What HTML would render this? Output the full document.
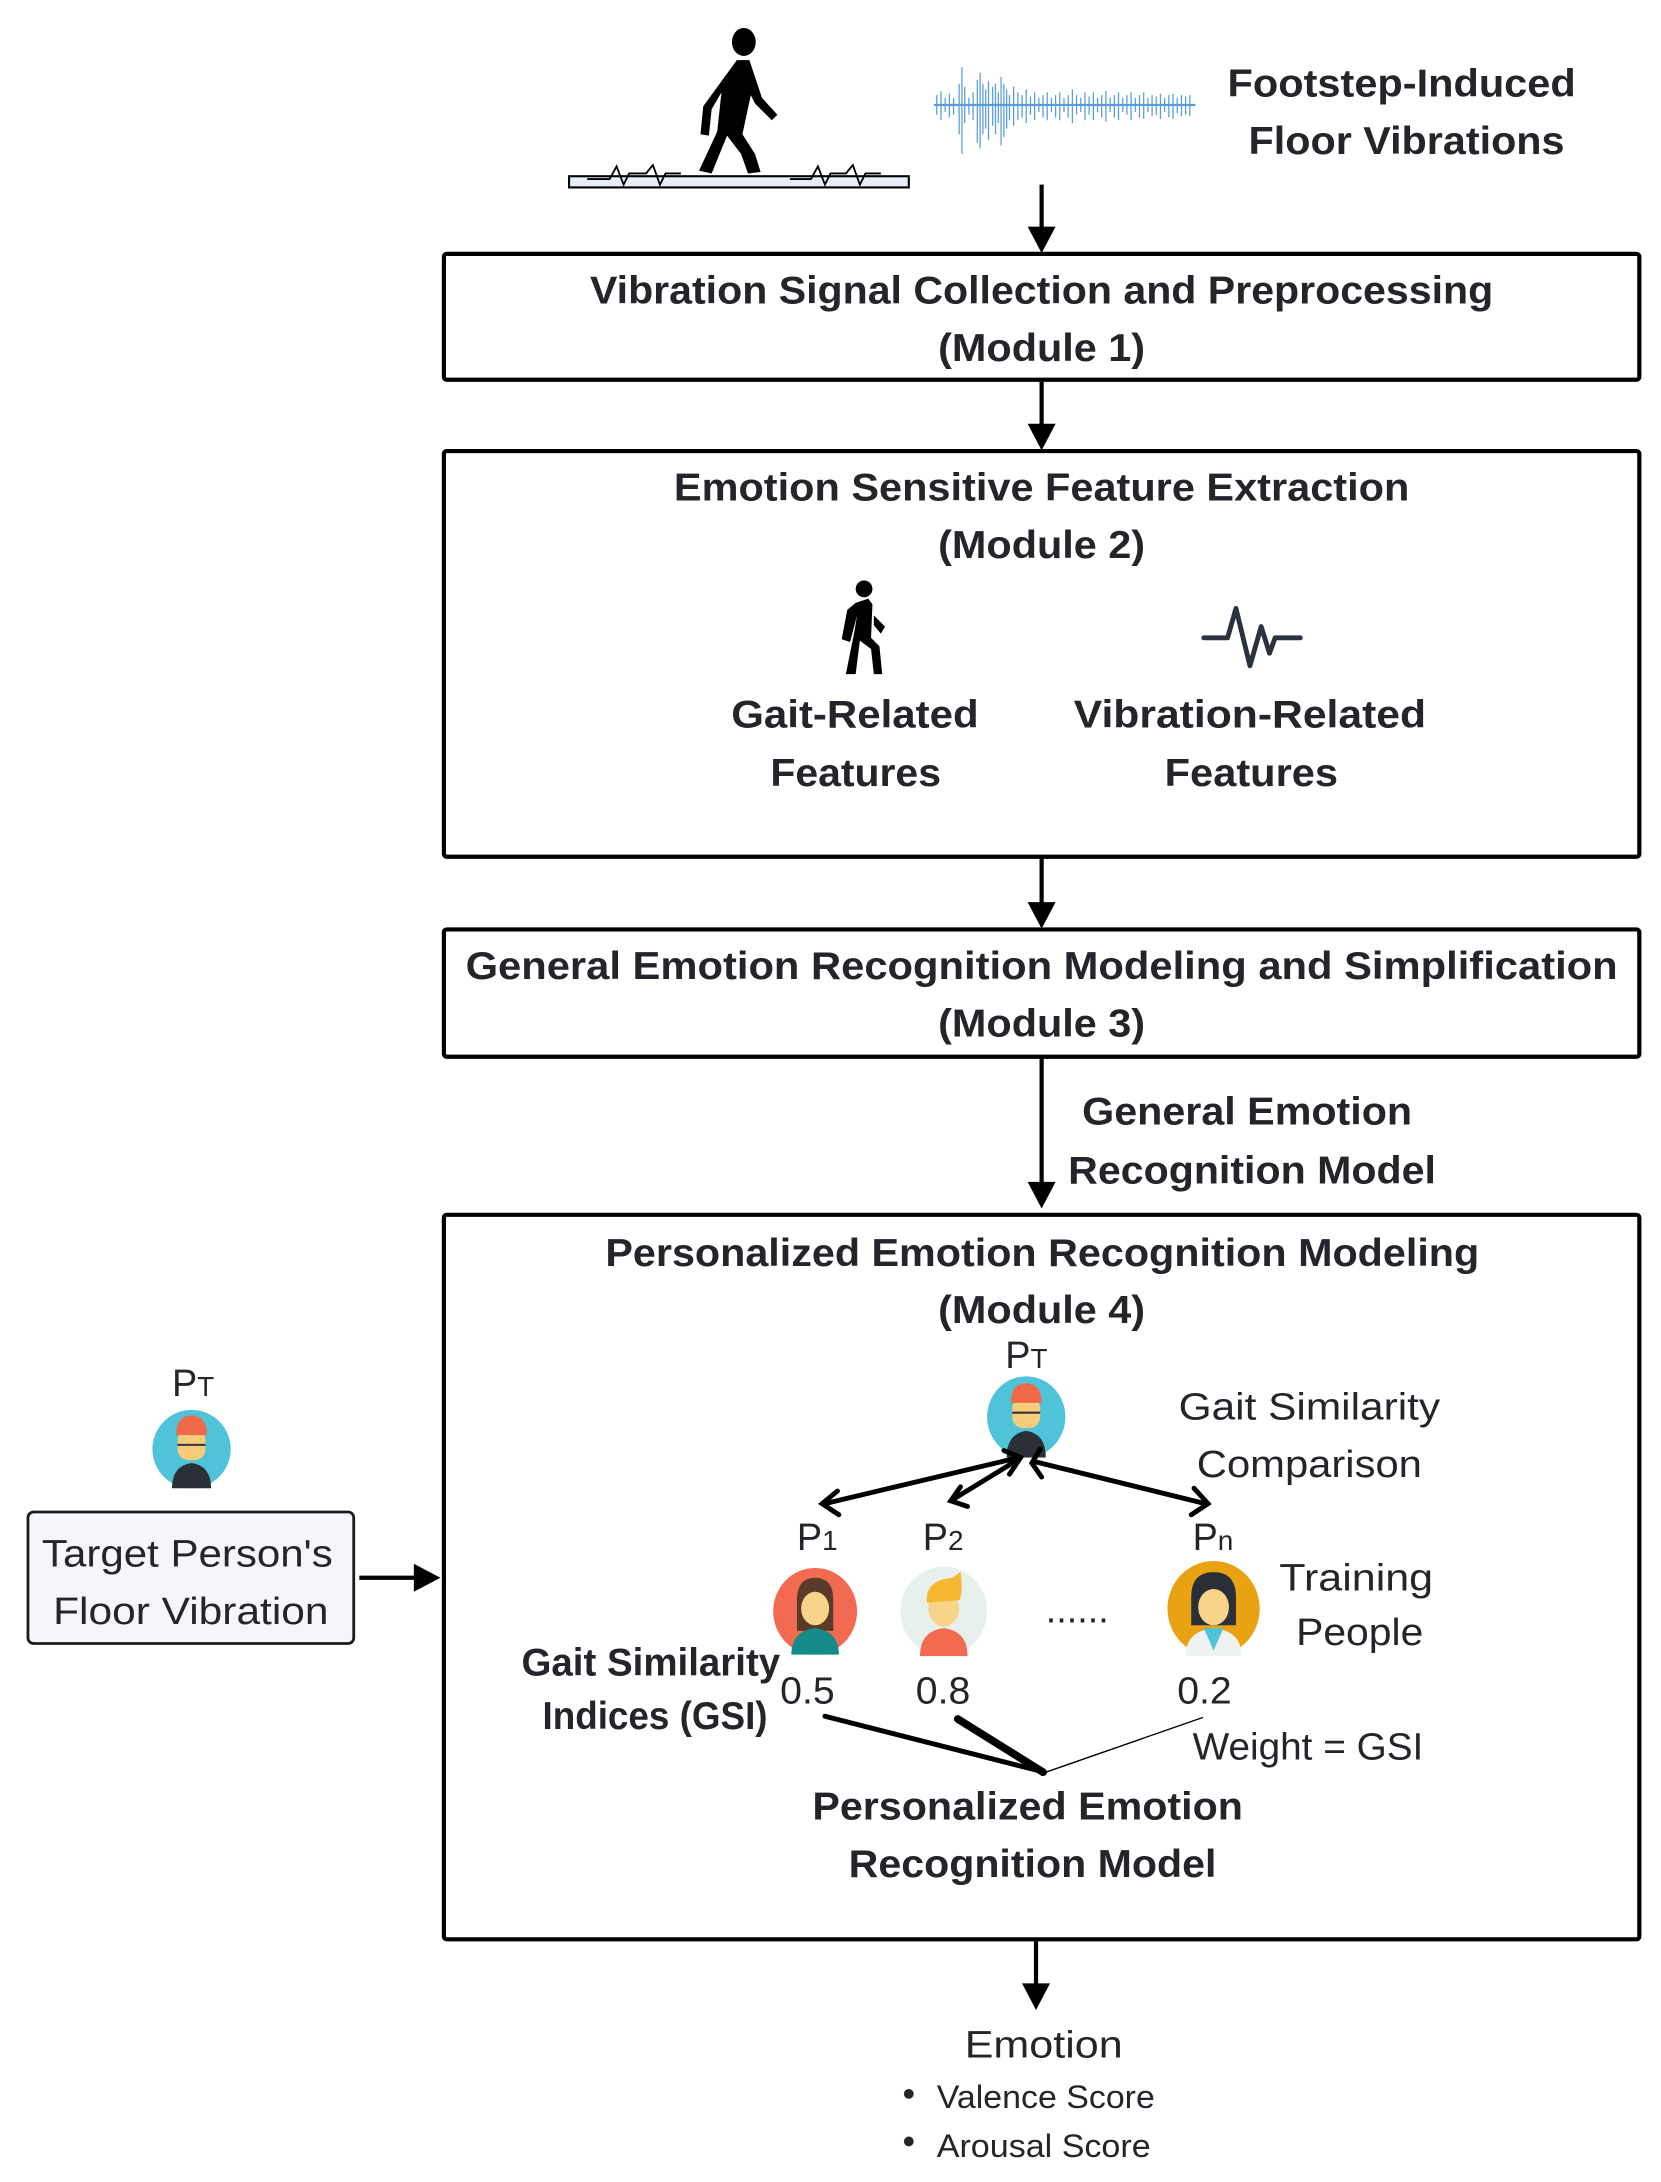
<!DOCTYPE html>
<html><head><meta charset="utf-8"><style>
html,body{margin:0;padding:0;background:#fff;}
svg{display:block;}
text{font-family:"Liberation Sans",sans-serif;fill:#23252b;}
.b{font-weight:bold;font-size:28px;}
.n{font-size:27px;}
</style></head><body>
<svg width="1661" height="2182" viewBox="0 0 1188 1560" preserveAspectRatio="none" xmlns="http://www.w3.org/2000/svg">
<defs>
<marker id="ah" markerWidth="6" markerHeight="6" refX="5" refY="3" orient="auto" markerUnits="strokeWidth"><path d="M0,0 L6,3 L0,6 z" fill="#000"/></marker>
<marker id="oa" markerWidth="8" markerHeight="8" refX="6" refY="4" orient="auto-start-reverse" markerUnits="userSpaceOnUse"><path d="M0,-1 L7,4 L0,9" fill="none" stroke="#000" stroke-width="2.5" transform="scale(1.3) translate(-1.5,-0.9)"/></marker>
</defs>

<!-- top walker -->
<rect x="407" y="126" width="243" height="8" fill="#e8eef8" stroke="#000" stroke-width="1.5"/>
<polyline points="420,128 436,128 441,119 446,132 450,124 462,124 467,118 472,132 476,124 487,124" fill="none" stroke="#000" stroke-width="1.3"/>
<polyline points="565,128 580,128 585,119 590,132 594,124 605,124 610,118 615,132 619,124 630,124" fill="none" stroke="#000" stroke-width="1.3"/>
<ellipse cx="532" cy="30" rx="8.5" ry="10" fill="#000"/>
<path d="M527,43 L536,43 L545,70 L556,82 L552,86 L540,74 L537,68 L531,96 L540,110 L544,123 L535,124 L530,110 L520,97 L509,124 L500,122 L513,94 L516,66 L509,78 L507,97 L501,96 L503,76 Z" fill="#000"/>
<!-- waveform -->
<g stroke="#3d8bd4" stroke-width="0.9" opacity="0.85">
<path d="M668,75 L855,75" stroke-width="1.5"/>
<path d="M670,68V82 M673,65V86 M676,70V80 M679,67V84 M682,70V82 M686,60V96 M688,48V110 M690,62V88 M693,70V82 M696,66V86 M699,57V102 M701,52V106 M703,60V96 M705,64V92 M707,58V100 M710,62V90 M712,60V96 M714,66V88 M716,55V104 M718,60V98 M720,64V92 M722,68V86 M725,62V90 M728,66V86 M731,68V84 M734,64V88 M737,69V82 M740,66V86 M743,70V80 M746,68V84 M749,66V86 M752,70V80 M755,68V84 M758,66V86 M761,70V80 M764,68V84 M767,64V88 M770,68V82 M773,70V80 M776,66V86 M779,69V82 M782,66V86 M785,70V80 M788,68V84 M791,65V87 M794,70V80 M797,68V84 M800,66V86 M803,70V80 M806,68V82 M809,66V86 M812,70V80 M815,68V84 M818,66V85 M821,70V80 M824,68V83 M827,69V82 M830,67V85 M833,70V80 M836,68V84 M839,67V85 M842,70V81 M845,68V83 M848,69V82 M851,68V83"/>
</g>
<text class="b" x="878" y="69" textLength="249" lengthAdjust="spacingAndGlyphs">Footstep-Induced</text>
<text class="b" x="893" y="110" textLength="226" lengthAdjust="spacingAndGlyphs">Floor Vibrations</text>

<!-- main arrows -->
<g stroke="#000" stroke-width="3">
<line x1="745" y1="132" x2="745" y2="165"/>
<line x1="745" y1="273" x2="745" y2="306"/>
<line x1="745" y1="613" x2="745" y2="648"/>
<line x1="745" y1="756" x2="745" y2="848"/>
<line x1="741" y1="1388" x2="741" y2="1421"/>
<line x1="257" y1="1128" x2="299" y2="1128"/>
</g>
<g fill="#000">
<path d="M735,162 L755,162 L745,181 Z"/>
<path d="M735,303 L755,303 L745,322 Z"/>
<path d="M735,645 L755,645 L745,664 Z"/>
<path d="M735,845 L755,845 L745,864 Z"/>
<path d="M731,1418 L751,1418 L741,1437 Z"/>
<path d="M296,1118 L296,1138 L315,1128 Z"/>
</g>

<!-- boxes -->
<g fill="none" stroke="#000" stroke-width="3">
<rect x="317.5" y="181.5" width="855" height="90" rx="2"/>
<rect x="317.5" y="322.5" width="855" height="290" rx="2"/>
<rect x="317.5" y="664.5" width="855" height="91" rx="2"/>
<rect x="317.5" y="868.5" width="855" height="518" rx="2"/>
</g>

<text class="b" x="422" y="217" textLength="646" lengthAdjust="spacingAndGlyphs">Vibration Signal Collection and Preprocessing</text>
<text class="b" x="671" y="258" textLength="148" lengthAdjust="spacingAndGlyphs">(Module 1)</text>
<text class="b" x="482" y="358" textLength="526" lengthAdjust="spacingAndGlyphs">Emotion Sensitive Feature Extraction</text>
<text class="b" x="671" y="399" textLength="148" lengthAdjust="spacingAndGlyphs">(Module 2)</text>

<!-- small walker -->
<circle cx="618" cy="421" r="6" fill="#000"/>
<path d="M612,431 L621,428 L624,432 L623,456 L629,462 L631,482 L625,482 L623,464 L615,458 L612,482 L605,482 L611,452 L613,440 L608,459 L602,457 L606,436 Z M625,440 L633,448 L630,453 L625,447 Z" fill="#000"/>
<!-- pulse icon -->
<polyline points="861,456 878,456 884,435 894,476 902,448 908,467 912,456 930,456" fill="none" stroke="#2c3140" stroke-width="3.5" stroke-linejoin="round" stroke-linecap="round"/>

<text class="b" x="523" y="520" textLength="177" lengthAdjust="spacingAndGlyphs">Gait-Related</text>
<text class="b" x="551" y="562" textLength="122" lengthAdjust="spacingAndGlyphs">Features</text>
<text class="b" x="768" y="520" textLength="252" lengthAdjust="spacingAndGlyphs">Vibration-Related</text>
<text class="b" x="833" y="562" textLength="124" lengthAdjust="spacingAndGlyphs">Features</text>

<text class="b" x="333" y="700" textLength="824" lengthAdjust="spacingAndGlyphs">General  Emotion Recognition Modeling and Simplification</text>
<text class="b" x="671" y="741" textLength="148" lengthAdjust="spacingAndGlyphs">(Module 3)</text>
<text class="b" x="774" y="804" textLength="236" lengthAdjust="spacingAndGlyphs">General Emotion</text>
<text class="b" x="764" y="846" textLength="263" lengthAdjust="spacingAndGlyphs">Recognition Model</text>

<text class="b" x="433" y="905" textLength="625" lengthAdjust="spacingAndGlyphs">Personalized Emotion Recognition Modeling</text>
<text class="b" x="671" y="946" textLength="148" lengthAdjust="spacingAndGlyphs">(Module 4)</text>

<!-- PT avatar in module 4 -->
<text class="n" x="719" y="978">P<tspan font-size="20">T</tspan></text>
<g transform="translate(734,1013)">
<ellipse rx="28" ry="29" fill="#4fc3d8"/>
<path d="M-14,29 Q-14,12 0,10 Q14,12 14,29 Z" fill="#2b2f38"/>
<rect x="-10" y="-14" width="20" height="22" rx="8" fill="#f6cc7a"/>
<path d="M-11,-10 Q-11,-24 0,-24 Q11,-24 11,-10 Z" fill="#f06a4a"/>
<line x1="-10" y1="-3" x2="10" y2="-3" stroke="#333" stroke-width="1.5"/>
</g>
<text class="n" x="843" y="1015" textLength="187" lengthAdjust="spacingAndGlyphs">Gait Similarity</text>
<text class="n" x="856" y="1056" textLength="161" lengthAdjust="spacingAndGlyphs">Comparison</text>

<g stroke="#000" stroke-width="3.5" fill="none" stroke-linecap="round">
<line x1="590" y1="1075" x2="729" y2="1042"/>
<line x1="680" y1="1073" x2="729" y2="1043"/>
<line x1="740" y1="1045" x2="862" y2="1075"/>
<polyline points="599,1066 588,1075 600,1083"/>
<polyline points="718,1037 730,1042 722,1054"/>
<polyline points="687,1063 680,1073 692,1077"/>
<polyline points="744,1036 738,1046 745,1056"/>
<polyline points="854,1064 864,1075 852,1083"/>
</g>

<text class="n" x="570" y="1108">P<tspan font-size="20">1</tspan></text>
<text class="n" x="660" y="1108">P<tspan font-size="20">2</tspan></text>
<text class="n" x="853" y="1108">P<tspan font-size="20">n</tspan></text>

<!-- avatars -->
<g transform="translate(583,1152)">
<ellipse rx="30" ry="31" fill="#f26b51"/>
<path d="M-13,-8 Q-13,-24 0,-24 Q13,-24 13,-8 L13,14 L-13,14 Z" fill="#5a3b2a"/>
<ellipse cy="-2" rx="10" ry="12" fill="#f8d48a"/>
<path d="M-17,31 Q-17,14 0,12 Q17,14 17,31 Z" fill="#148a8a"/>
</g>
<g transform="translate(675,1152)">
<ellipse rx="31" ry="32" fill="#e8f0ee"/>
<ellipse cy="-2" rx="11" ry="13" fill="#f8d48a"/>
<path d="M-12,-6 Q-14,-22 6,-24 L12,-28 Q14,-12 11,-8 Z" fill="#f5b830"/>
<path d="M-17,32 Q-17,14 0,12 Q17,14 17,32 Z" fill="#f26b51"/>
</g>
<g transform="translate(868,1150)">
<ellipse rx="33" ry="34" fill="#e9a312"/>
<path d="M-16,12 L-16,-8 Q-16,-26 0,-26 Q16,-26 16,-8 L16,12 Z" fill="#2b2f38"/>
<ellipse cy="-1" rx="11" ry="13" fill="#f8d48a"/>
<path d="M-20,34 Q-20,16 0,14 Q20,16 20,34 Z" fill="#eef2f0"/>
<path d="M-7,14 L0,30 L7,14 Z" fill="#4fc3d8"/>
</g>
<text class="n" x="748" y="1160" font-size="20">......</text>
<text class="n" x="915" y="1137" textLength="110" lengthAdjust="spacingAndGlyphs">Training</text>
<text class="n" x="927" y="1176" textLength="91" lengthAdjust="spacingAndGlyphs">People</text>

<text class="b" x="373" y="1198" textLength="185" lengthAdjust="spacingAndGlyphs">Gait Similarity</text>
<text class="b" x="388" y="1236" textLength="161" lengthAdjust="spacingAndGlyphs">Indices (GSI)</text>
<text class="n" x="558" y="1218" textLength="39" lengthAdjust="spacingAndGlyphs">0.5</text>
<text class="n" x="655" y="1218" textLength="39" lengthAdjust="spacingAndGlyphs">0.8</text>
<text class="n" x="842" y="1218" textLength="39" lengthAdjust="spacingAndGlyphs">0.2</text>
<g stroke="#000" stroke-linecap="round">
<line x1="590" y1="1227" x2="747" y2="1267" stroke-width="3.5"/>
<line x1="685" y1="1229" x2="746" y2="1267" stroke-width="5.5"/>
<line x1="860" y1="1228" x2="748" y2="1267" stroke-width="1"/>
</g>
<text class="n" x="853" y="1258" textLength="165" lengthAdjust="spacingAndGlyphs">Weight = GSI</text>
<text class="b" x="581" y="1301" textLength="308" lengthAdjust="spacingAndGlyphs">Personalized Emotion</text>
<text class="b" x="607" y="1342" textLength="263" lengthAdjust="spacingAndGlyphs">Recognition Model</text>

<!-- left -->
<text class="n" x="123" y="998">P<tspan font-size="20">T</tspan></text>
<g transform="translate(137,1036)">
<ellipse rx="28" ry="28" fill="#4fc3d8"/>
<path d="M-14,28 Q-14,12 0,10 Q14,12 14,28 Z" fill="#2b2f38"/>
<rect x="-10" y="-14" width="20" height="22" rx="8" fill="#f6cc7a"/>
<path d="M-11,-10 Q-11,-24 0,-24 Q11,-24 11,-10 Z" fill="#f06a4a"/>
<line x1="-10" y1="-3" x2="10" y2="-3" stroke="#333" stroke-width="1.5"/>
</g>
<rect x="20" y="1081" width="233" height="94" rx="4" fill="#f5f6fb" stroke="#1c1c1c" stroke-width="2"/>
<text class="n" x="30" y="1120" font-size="29" textLength="208" lengthAdjust="spacingAndGlyphs">Target Person's</text>
<text class="n" x="38" y="1161" font-size="29" textLength="197" lengthAdjust="spacingAndGlyphs">Floor Vibration</text>

<!-- output -->
<text class="n" x="690" y="1471" textLength="113" lengthAdjust="spacingAndGlyphs">Emotion</text>
<circle cx="650" cy="1497" r="3.5" fill="#23252b"/>
<circle cx="650" cy="1531" r="3.5" fill="#23252b"/>
<text x="670" y="1507" font-size="23" textLength="156" lengthAdjust="spacingAndGlyphs">Valence Score</text>
<text x="670" y="1542" font-size="23" textLength="153" lengthAdjust="spacingAndGlyphs">Arousal Score</text>
</svg>
</body></html>
